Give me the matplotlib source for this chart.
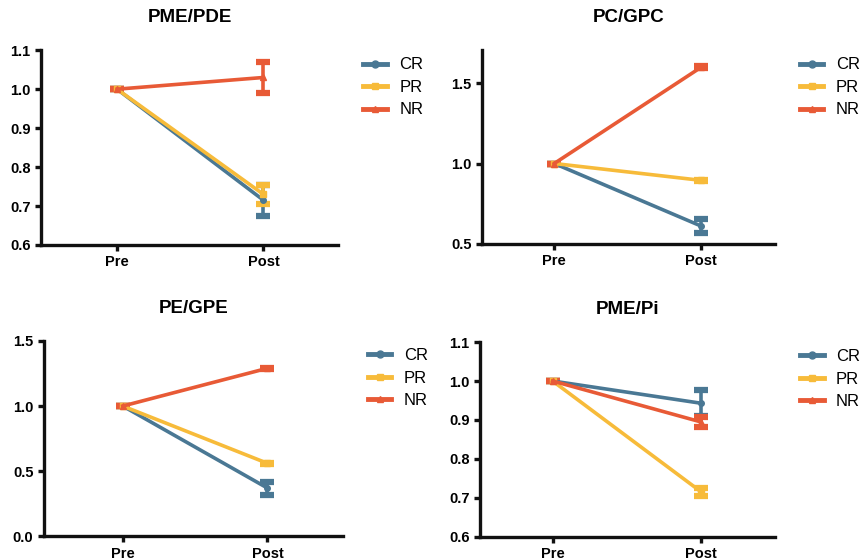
import matplotlib
matplotlib.use("Agg")
import matplotlib.pyplot as plt
from matplotlib.lines import Line2D

plt.rcParams['font.family'] = ['Liberation Sans', 'DejaVu Sans']

# data
timepoints = ['Pre', 'Post']
groups = ['CR', 'PR', 'NR']
colors = {'CR': '#4a7894', 'PR': '#f7bb3a', 'NR': '#e85a36'}
markers = {'CR': 'o', 'PR': 's', 'NR': '^'}

titles = ['PME/PDE', 'PC/GPC', 'PE/GPE', 'PME/Pi']

pme_pde_mean = {'CR': [1.0, 0.715], 'PR': [1.0, 0.73], 'NR': [1.0, 1.03]}
pme_pde_err = {'CR': [0.0, 0.04], 'PR': [0.0, 0.025], 'NR': [0.0, 0.04]}

pc_gpc_mean = {'CR': [1.0, 0.61], 'PR': [1.0, 0.895], 'NR': [1.0, 1.6]}
pc_gpc_err = {'CR': [0.0, 0.042], 'PR': [0.0, 0.005], 'NR': [0.0, 0.005]}

pe_gpe_mean = {'CR': [1.0, 0.37], 'PR': [1.0, 0.56], 'NR': [1.0, 1.29]}
pe_gpe_err = {'CR': [0.0, 0.05], 'PR': [0.0, 0.005], 'NR': [0.0, 0.005]}

pme_pi_mean = {'CR': [1.0, 0.943], 'PR': [1.0, 0.716], 'NR': [1.0, 0.895]}
pme_pi_err = {'CR': [0.0, 0.033], 'PR': [0.0, 0.01], 'NR': [0.0, 0.012]}

panels = [
    (pme_pde_mean, pme_pde_err, (0.6, 1.1), [0.6, 0.7, 0.8, 0.9, 1.0, 1.1]),
    (pc_gpc_mean, pc_gpc_err, (0.5, 1.705), [0.5, 1.0, 1.5]),
    (pe_gpe_mean, pe_gpe_err, (0.0, 1.5), [0.0, 0.5, 1.0, 1.5]),
    (pme_pi_mean, pme_pi_err, (0.6, 1.1), [0.6, 0.7, 0.8, 0.9, 1.0, 1.1]),
]

# axes boxes [left, bottom, width, height] in figure fractions
boxes = [
    [0.0476, 0.561, 0.345, 0.349],
    [0.560, 0.563, 0.340, 0.347],
    [0.051, 0.039, 0.347, 0.350],
    [0.5575, 0.038, 0.3425, 0.349],
]
xlims = [(-0.52, 1.51), (-0.49, 1.50), (-0.545, 1.52), (-0.49, 1.50)]

fig = plt.figure(figsize=(8.61, 5.58), dpi=100)

for i in range(4):
    mean, err, ylim, yticks = panels[i]
    ax = fig.add_axes(boxes[i])
    x = [0, 1]
    for g in groups:
        ax.errorbar(x, mean[g], yerr=err[g], color=colors[g], marker=markers[g],
                    markersize=4, linewidth=2.6, elinewidth=2.6, capsize=5,
                    capthick=4.5)
    ax.set_xlim(*xlims[i])
    ax.set_ylim(*ylim)
    ax.set_yticks(yticks)
    ax.set_yticklabels(['%.1f' % t for t in yticks])
    ax.set_xticks(x)
    ax.set_xticklabels(timepoints)
    for s in ['top', 'right']:
        ax.spines[s].set_visible(False)
    for s in ['left', 'bottom']:
        ax.spines[s].set_linewidth(2.4)
        ax.spines[s].set_color('#111111')
    ax.tick_params(width=2.4, length=4, direction='out', labelsize=10.5, color='#111111')
    for lab in ax.get_xticklabels() + ax.get_yticklabels():
        lab.set_fontweight('bold')
    ax.set_title(titles[i], fontsize=13.5, fontweight='bold', pad=20)
    handles = [Line2D([0], [0], color=colors[g], marker=markers[g], markersize=5,
                      linewidth=3.5) for g in groups]
    ax.legend(handles, groups, loc='upper left', bbox_to_anchor=(1.035, 1.04),
              frameon=False, fontsize=12, handlelength=1.4, handletextpad=0.75,
              labelspacing=0.45)

fig.savefig('out.png', dpi=100)
